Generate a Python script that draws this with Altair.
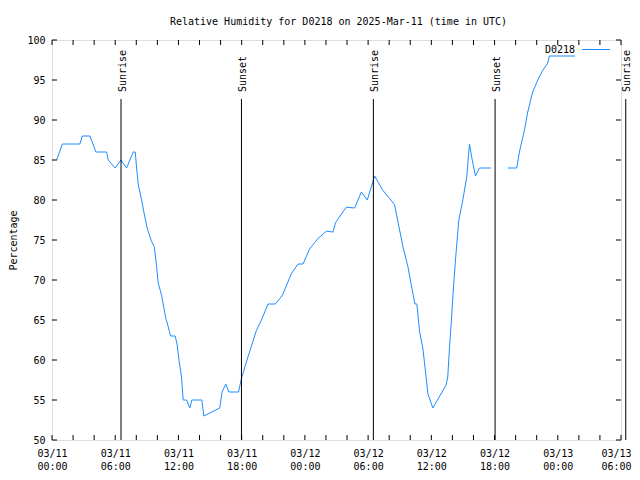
import altair as alt
import pandas as pd

# hours since 2025-03-11 00:00 UTC
hours = [0.45, 0.98, 2.65, 2.87, 3.6, 4.17, 5.18, 5.34, 6.0, 6.54,
         7.08, 7.71, 7.9, 8.03, 8.18, 8.5, 8.72, 9.03, 9.45, 9.7,
         9.86, 10.08, 10.4, 10.62, 10.8, 11.02, 11.25, 11.69, 11.88, 12.07,
         12.29, 12.45, 12.77, 13.08, 13.27, 14.22, 14.41, 15.92, 16.14, 16.49,
         16.78, 17.7, 17.98, 18.6, 19.4, 19.88, 20.5, 21.2, 21.87, 22.72,
         23.35, 23.82, 24.45, 25.24, 26.04, 26.66, 26.92, 27.93, 28.72, 29.36,
         29.92, 30.62, 31.4, 32.04, 32.51, 33.3, 33.77, 34.25, 34.44, 34.63,
         34.88, 35.19, 35.45, 35.67, 36.14, 37.41, 37.56, 37.73, 37.89, 38.04,
         38.29, 38.61, 38.99, 39.36, 39.62, 39.88, 40.19, 40.57, 41.68, 43.25,
         44.1, 44.36, 44.83, 45.15, 45.62, 46.1, 46.57, 47.04, 47.2, 49.64]
humidity = [85, 87, 87, 88, 88, 86, 86, 85, 84, 85,
            84, 86, 86, 84, 82, 80, 78.5, 76.5, 74.8, 74.2,
            72.5, 69.6, 68.1, 66.5, 65.2, 64.2, 63, 63, 61.9, 59.8,
            57.9, 55, 55, 54, 55, 55, 53, 54, 56, 57,
            56, 56, 57.7, 60.4, 63.7, 65, 67, 67, 68.1, 70.8,
            72, 72, 73.9, 75.2, 76.1, 76, 77.2, 79.1, 79, 81,
            80, 83, 81.2, 80.2, 79.4, 74.2, 71.7, 68.3, 67, 67,
            63.6, 61.5, 58.5, 55.8, 54, 56.9, 57.9, 61.7, 64.6, 67.9,
            72.5, 77.5, 80, 82.9, 87, 85, 83, 84, 84, 84,
            84, 86, 88.7, 91, 93.5, 95, 96.2, 97.1, 98, 98]
gap_after_hour = 42.0  # data gap around 03/12 18:00

sun_hours = [6.55, 17.98, 30.5, 42.05, 54.45]
sun_labels = ["Sunrise", "Sunset", "Sunrise", "Sunset", "Sunrise"]

y_ticks = [50, 55, 60, 65, 70, 75, 80, 85, 90, 95, 100]
x_label_hours = [0, 6, 12, 18, 24, 30, 36, 42, 48, 54]
x_tick_hours = list(range(0, 55, 2))

W, H = 569, 400
FONT = "DejaVu Sans Mono"
BLUE = "#1e8cff"

df = pd.DataFrame({"h": hours, "rh": humidity})
df["seg"] = (df["h"] > gap_after_hour).astype(int)
sun = pd.DataFrame({"h": sun_hours, "label": sun_labels})
yt = pd.DataFrame({"rh": y_ticks})
xt = pd.DataFrame({"h": x_tick_hours})

xscale = alt.Scale(domain=[0, 54], nice=False, zero=False)
yscale = alt.Scale(domain=[50, 100], nice=False, zero=False)

xaxis = alt.Axis(
    values=x_label_hours, ticks=False, domain=False, grid=False, title=None,
    labelExpr="['03/' + (11 + floor(datum.value/24)), (datum.value % 24 < 10 ? '0' : '') + (datum.value % 24) + ':00']",
    labelPadding=8, labelLineHeight=13, labelFont=FONT, labelFontSize=10,
    labelColor="black", labelFlush=False, labelOverlap=False,
    labelOffset={"condition": {"test": "datum.value == 54", "value": -5}, "value": 0},
)
yaxis = alt.Axis(
    values=y_ticks, ticks=False, domain=False, grid=False, title="Percentage",
    labelPadding=7, labelFont=FONT, labelFontSize=10, labelColor="black",
    labelOverlap=False, labelFlush=False,
    titleFont=FONT, titleFontSize=10, titleFontWeight="normal", titleColor="black",
    titlePadding=8,
)

X = alt.X("h:Q", scale=xscale, axis=xaxis)
Y = alt.Y("rh:Q", scale=yscale, axis=yaxis)

line = alt.Chart(df).mark_line(color=BLUE, strokeWidth=1).encode(
    x=X, y=Y, detail="seg:N",
)

sun_rules = alt.Chart(sun).mark_rule(color="black", strokeWidth=1).encode(
    x=X, y=alt.value(59), y2=alt.value(H),
)
sun_text = alt.Chart(sun).mark_text(
    angle=270, align="left", baseline="middle", font=FONT, fontSize=10,
    color="black", dy=1.5,
).encode(x=X, y=alt.value(52), text="label:N")

ytick_left = alt.Chart(yt).mark_rule(color="black").encode(
    y=Y, x=alt.value(0), x2=alt.value(5))
ytick_right = alt.Chart(yt).mark_rule(color="black").encode(
    y=Y, x=alt.value(W - 5), x2=alt.value(W))
xtick_bottom = alt.Chart(xt).mark_rule(color="black").encode(
    x=X, y=alt.value(H - 5), y2=alt.value(H))
xtick_top = alt.Chart(xt).mark_rule(color="black").encode(
    x=X, y=alt.value(0), y2=alt.value(5))

legend_text = alt.Chart(pd.DataFrame({"t": ["D0218"]})).mark_text(
    align="right", baseline="middle", font=FONT, fontSize=10, color="black"
).encode(x=alt.value(523), y=alt.value(10), text="t:N")
legend_line = alt.Chart(pd.DataFrame({"t": ["D0218"]})).mark_rule(
    color=BLUE, strokeWidth=1
).encode(x=alt.value(530), x2=alt.value(558), y=alt.value(9.5))

title = alt.Chart(pd.DataFrame({"t": ["Relative Humidity for D0218 on 2025-Mar-11 (time in UTC)"]})).mark_text(
    align="center", baseline="alphabetic", font=FONT, fontSize=10, color="black"
).encode(x=alt.value(W / 2 + 2), y=alt.value(-15.5), text="t:N")

chart = alt.layer(
    line, sun_rules, sun_text, ytick_left, ytick_right, xtick_bottom, xtick_top,
    legend_text, legend_line, title,
).properties(
    width=W, height=H,
    autosize=alt.AutoSizeParams(type="none"),
    padding={"left": 44, "top": 32, "right": 11, "bottom": 32},
).configure_view(
    stroke="black", strokeWidth=1
).configure(background="white")

chart.save("out.html", embed_options={"renderer": "svg", "actions": False})
